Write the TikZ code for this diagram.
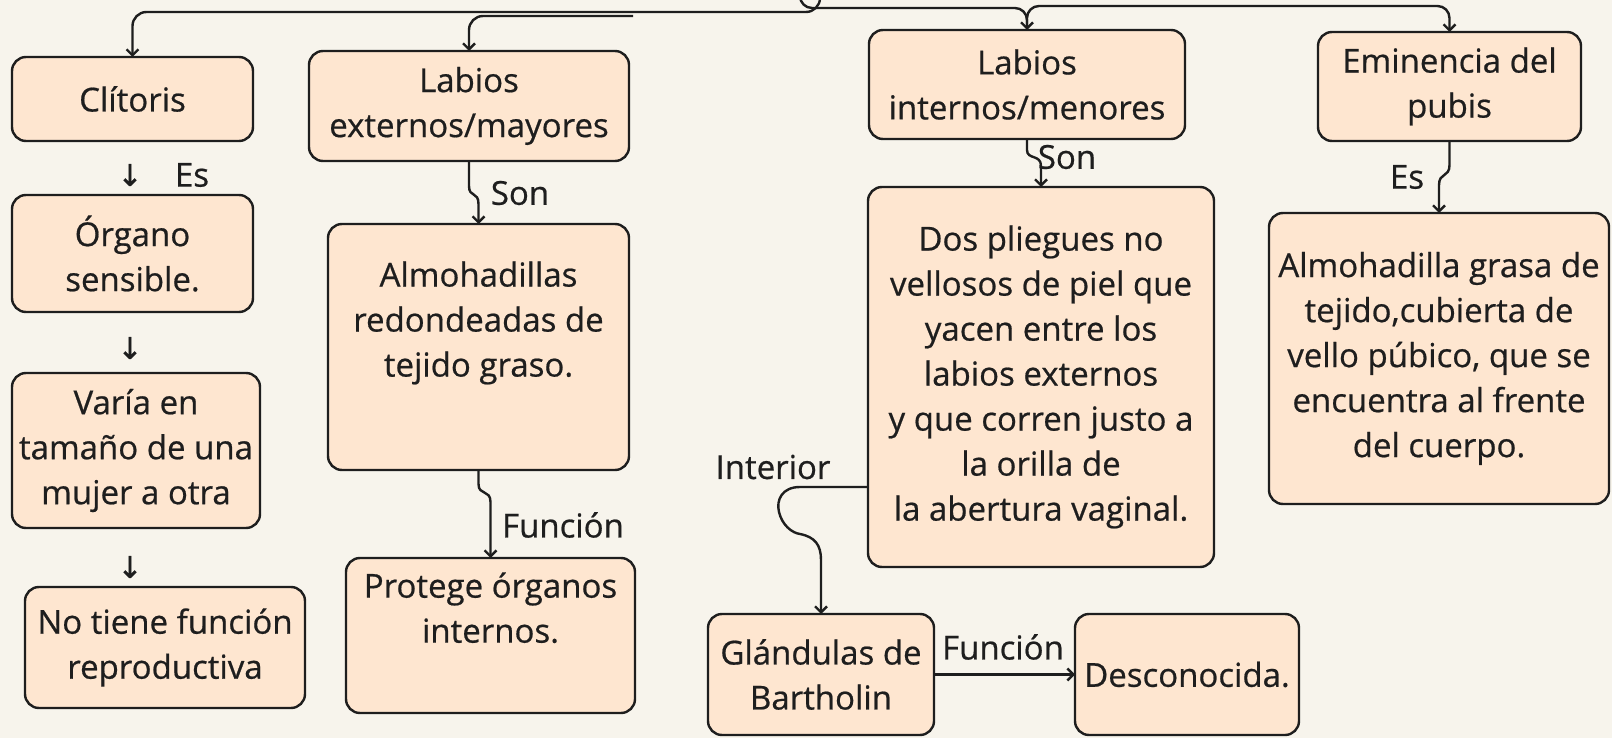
\documentclass[tikz,border=0pt]{standalone}
\usepackage{fontspec}
\setmainfont{Open Sans}[RawFeature={embolden=0.6}]
\newfontfamily\symfont{DejaVu Sans}[RawFeature={embolden=1}]
\usetikzlibrary{arrows.meta,calc}
\definecolor{bg}{HTML}{F7F4EC}
\definecolor{boxfill}{HTML}{FEE6D0}
\definecolor{ink}{HTML}{1E1E1E}
\newcommand\myLift{\rule[-56pt]{0pt}{56pt}}
\begin{document}
\begin{tikzpicture}[x=1pt,y=-1pt,
  box/.style={draw=ink, fill=boxfill, line width=2.4pt, rounded corners=14pt,
    align=center, inner sep=0pt, outer sep=0pt, anchor=north west,
    font=\fontsize{33}{45}\selectfont, text=ink},
  conn/.style={draw=ink, line width=2.4pt, -{Straight Barb[length=6pt,width=12pt]}},
  lbl/.style={font=\fontsize{33}{38}\selectfont, text=ink, inner sep=0pt},
  arr/.style={font=\symfont\fontsize{30}{34}\selectfont, text=ink, inner sep=0pt}]
\useasboundingbox (0,0) rectangle (1612,738);
\fill[bg] (0,0) rectangle (1612,738);

% left column
\node[box, minimum width=241pt, minimum height=84pt] (clit) at (12,57) {Clítoris};
\node[box, minimum width=241pt, minimum height=117pt] (org) at (12,195) {Órgano\\sensible.};
\node[box, minimum width=248pt, minimum height=155pt] (var) at (12,373) {Varía en\\tamaño de una\\mujer a otra};
\node[box, minimum width=280pt, minimum height=121pt] (notf) at (25,587) {No tiene función\\reproductiva};
\node[arr] (a1) at (130,175) {↓};
\node[lbl] (es1) at (192,175) {Es};
\node[arr] (a2) at (130,348) {↓};
\node[arr] (a3) at (130,567) {↓};

% second column
\node[box, minimum width=320pt, minimum height=110pt] (lext) at (309,51) {Labios\\externos/mayores};
\node[box, minimum width=301pt, minimum height=246pt] (almo) at (328,224) {Almohadillas\\redondeadas de\\tejido graso.\myLift};
\node[box, minimum width=289pt, minimum height=155pt] (prot) at (346,558) {Protege órganos\\internos.\myLift};
\node[lbl] (son1) at (520,193) {Son};
\node[lbl] (fun1) at (563,525) {Función};

% third column
\node[box, minimum width=316pt, minimum height=109pt] (lint) at (869,30) {Labios\\internos/menores};
\node[box, minimum width=346pt, minimum height=380pt] (dos) at (868,187) {Dos pliegues no\\vellosos de piel que\\yacen entre los\\labios externos\\y que corren justo a\\la orilla de\\la abertura vaginal.};
\node[box, minimum width=226pt, minimum height=121pt] (gland) at (708,614) {Glándulas de\\Bartholin};
\node[box, minimum width=224pt, minimum height=121pt] (desc) at (1075,614) {Desconocida.};
\node[lbl] (son2) at (1067,157) {Son};
\node[lbl] (inter) at (773,467) {Interior};
\node[lbl] (fun2) at (1003,647) {Función};

% right column
\node[box, minimum width=263pt, minimum height=109pt] (emin) at (1318,32) {Eminencia del\\pubis};
\node[box, minimum width=340pt, minimum height=291pt] (alm2) at (1269,213) {Almohadilla grasa de\\tejido,cubierta de\\vello púbico, que se\\encuentra al frente\\del cuerpo.};
\node[lbl] (es2) at (1407,177) {Es};

% top connectors
\coordinate (srcL) at (820,-14);
\coordinate (srcR) at (800,-14);
\coordinate (lstart) at (633,16);
\coordinate (split) at (1027,28);
\coordinate (ia) at (0,487);
\draw[conn, rounded corners=14pt] (srcL) |- (132.5,12) -- (clit.north);
\draw[conn, rounded corners=14pt] (lstart) -| (lext.north);
\draw[conn, rounded corners=12pt] (srcR) |- (1027,8) -- (lint.north);
\draw[conn, rounded corners=12pt] (split) |- (1449.5,6) -- (emin.north);

% vertical connectors
\draw[conn] (lext.south) -- (469,186) .. controls (469,198) and (478.5,191) .. (478.5,204) -- (almo.north);
\draw[conn] (almo.south) -- (478.5,484) .. controls (478.5,496) and (490.5,489) .. (490.5,502) -- (prot.north);
\draw[conn] (lint.south) -- (1027,150) .. controls (1027,160) and (1041,154) .. (1041,166) -- (dos.north);
\draw[conn] (emin.south) -- (1449.5,165) .. controls (1449.5,178) and (1439,172) .. (1439,185) -- (alm2.north);

% interior connector
\draw[conn] (dos.west |- ia) -- (800,487) .. controls (782,487) and (776,500) .. (779,512)
  .. controls (782,525) and (792,533) .. (800,534) .. controls (815,537) and (821,545) .. (821,560) -- (gland.north);
\draw[conn] (gland.east) -- (desc.west);
\end{tikzpicture}
\end{document}
